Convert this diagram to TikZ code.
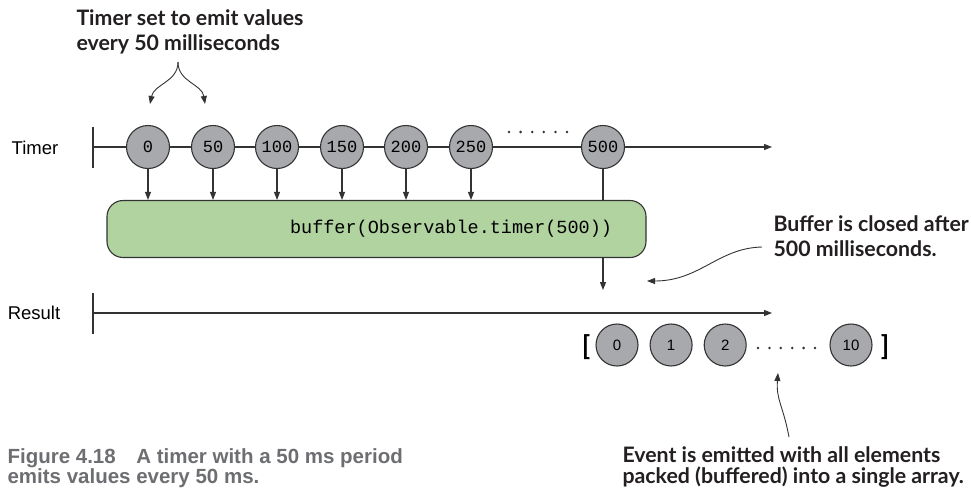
\documentclass[tikz,border=0pt]{standalone}
\usepackage{fontspec}
\setmainfont{Liberation Sans}
\setmonofont{Liberation Mono}
\newfontfamily\notefont{Lato}
\usepackage{tikz}
\usetikzlibrary{arrows.meta,positioning,calc}
\definecolor{marblegray}{HTML}{A7A9AC}
\definecolor{edgegray}{HTML}{333333}
\definecolor{opgreen}{HTML}{B0D3A0}
\definecolor{capgray}{HTML}{6D6E71}
\definecolor{notetext}{HTML}{231F20}

\begin{document}
\begin{tikzpicture}[
    x=1pt,y=-1pt,
    line width=1.1pt,
    marble/.style={draw=edgegray,circle,fill=marblegray,minimum size=43pt,inner sep=0pt,font=\ttfamily\fontsize{17}{17}\selectfont},
    item/.style={marble,minimum size=42pt,font=\fontsize{15}{15}\selectfont},
    arr/.style={-{Triangle[length=8pt,width=6pt]},draw=edgegray},
    note/.style={font=\notefont\bfseries\fontsize{21.3}{25}\selectfont,align=left,text=notetext,inner sep=0pt},
    axislabel/.style={font=\fontsize{18.5}{18.5}\selectfont,inner sep=0pt},
    bracket/.style={font=\notefont\bfseries\fontsize{27}{27}\selectfont,inner sep=0pt}
]
\useasboundingbox (0,0) rectangle (971,493);

% timer stream
\node[axislabel] (timerlbl) at (35,148) {Timer};
\coordinate (tstart) at (93,147);
\coordinate (tend) at (772,147);
\foreach \v/\x in {0/148,50/213,100/277,150/342,200/406,250/471,500/603}
  \node[marble] (t\v) at (\x,147) {\v};
\draw[edgegray] (tstart) ++(0,-20.5) -- ++(0,41);
\draw[edgegray] (tstart) -- (t0) -- (t50) -- (t100) -- (t150) -- (t200) -- (t250) -- (t500);
\draw[arr] (t500) -- (tend);
\foreach \i in {0,...,5}
  \fill[edgegray] (509+\i*11.6,132) circle (1.4pt);

% operator
\node[draw=edgegray,fill=opgreen,rounded corners=16pt,minimum height=57pt,text width=471pt,inner xsep=34pt,align=right,font=\ttfamily\fontsize{18.5}{18.5}\selectfont] (buf) at (376.5,229) {buffer(Observable.timer(500))};
\foreach \v in {0,50,100,150,200,250}
  \draw[arr] (t\v) -- (t\v |- buf.north);
\draw[edgegray] (t500) -- (t500 |- buf.north);
\coordinate (emit) at (603,290);
\draw[arr] (t500 |- buf.south) -- (emit);

% result stream
\node[axislabel] (reslbl) at (34,313) {Result};
\coordinate (rstart) at (93,313);
\coordinate (rend) at (772,313);
\draw[edgegray] (rstart) ++(0,-20.5) -- ++(0,41);
\draw[arr] (rstart) -- (rend);

% emitted array
\node[bracket] (lbr) at (586,347) {[};
\node[item] (a0) at (617,345) {0};
\node[item,right=11pt of a0] (a1) {1};
\node[item,right=11pt of a1] (a2) {2};
\node[item] (a10) at (851,345) {10};
\node[bracket] (rbr) at (885,347) {]};
\foreach \i in {0,...,5}
  \fill[edgegray] (758+\i*11.4,348) circle (1.4pt);

% notes
\node[note,anchor=west] (title) at (76,32) {Timer set to emit values\\every 50 milliseconds};
\coordinate (fork) at (178,62);
\draw[arr,line width=0.9pt] (fork) .. controls (178,82) and (154,84) .. (150,104);
\draw[arr,line width=0.9pt] (fork) .. controls (178,82) and (202,84) .. (205,104);

\node[note,anchor=west] (closed) at (773,236) {Buffer is closed after\\500 milliseconds.};
\coordinate (closedtail) at (762,247);
\draw[arr,line width=0.9pt] (closedtail) .. controls (718,248) and (700,281) .. (647,281);

\node[note,anchor=west,font=\notefont\bfseries\fontsize{21.3}{21.5}\selectfont] (packed) at (622,467) {Event is emitted with all elements\\packed (buffered) into a single array.};
\coordinate (packedtail) at (789,437);
\draw[arr,line width=0.9pt] (packedtail) .. controls (783,405) and (776,400) .. (778,373);

\node[font=\bfseries\fontsize{20.5}{20}\selectfont,text=capgray,align=left,anchor=west,inner sep=0pt] (cap) at (7,468) {Figure 4.18\quad A timer with a 50 ms period\\emits values every 50 ms.};
\end{tikzpicture}
\end{document}
